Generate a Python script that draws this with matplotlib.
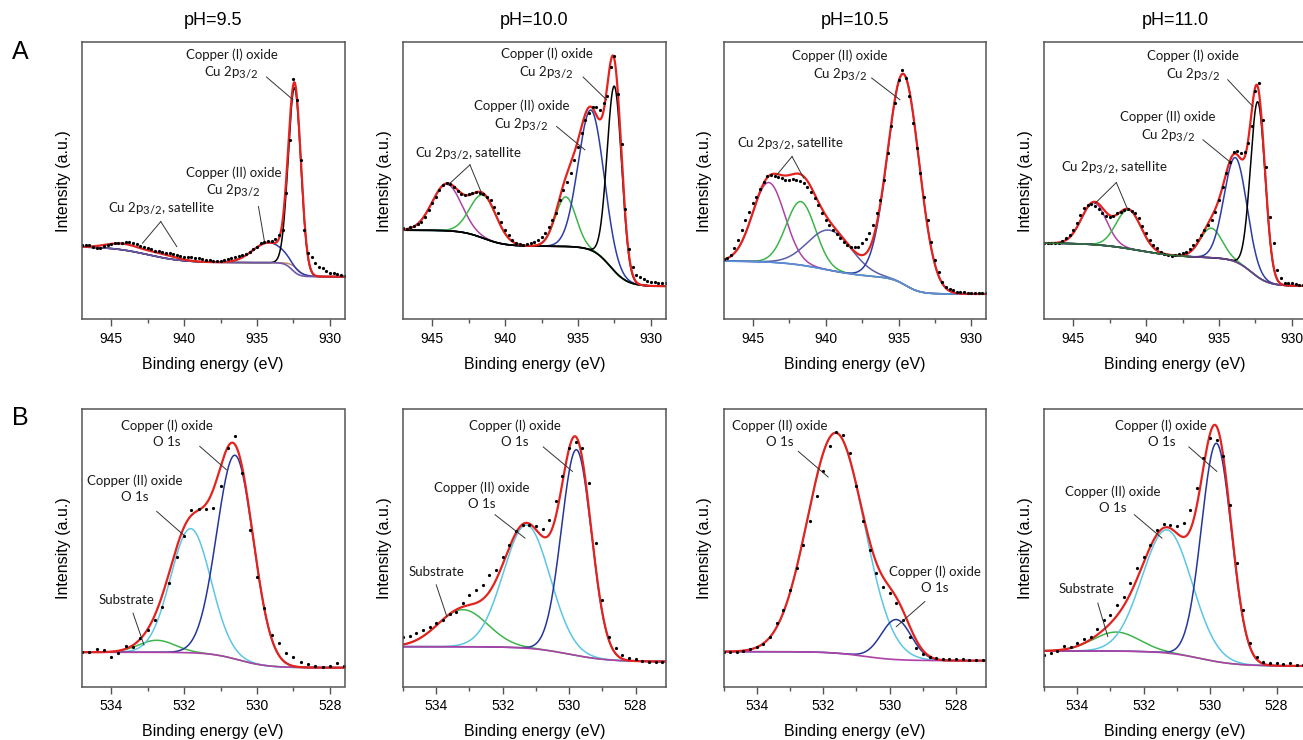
import numpy as np
import matplotlib
matplotlib.use('Agg')
from matplotlib import pyplot as plt
from matplotlib.ticker import MultipleLocator
import matplotlib._mathtext as mtext

plt.rcParams['font.family'] = ['Liberation Sans', 'DejaVu Sans']
plt.rcParams['mathtext.fontset'] = 'custom'
plt.rcParams['mathtext.rm'] = 'Lato'
plt.rcParams['mathtext.it'] = 'Lato:italic'
plt.rcParams['mathtext.bf'] = 'Lato:bold'
#3/2 in the labels is only slightly smaller than the text
mtext.SHRINK_FACTOR = 0.85

RED = '#e3231f'
BLUE = '#2b3da6'
GREEN = '#3db54a'
MAGENTA = '#ad42a6'
SLATE = '#5a5ea8'
CYAN = '#5cc6e4'
DARKBLUE = '#25369a'
FRAME = '#555555'

ph_labels = ['pH=9.5', 'pH=10.0', 'pH=10.5', 'pH=11.0']

#Cu 2p3/2 measured points (row A), 947 -> 929 eV every 0.25 eV
cu_energy = np.linspace(947.0, 929.0, 73)
cu_dots_95 = [74.3, 74.3, 74, 72, 71.5, 71, 73.3, 74, 75, 76,
              76.6, 76.6, 77, 77, 76, 75, 73.6, 72, 71, 70,
              68.6, 68.6, 67.6, 66.6, 66.6, 65.3, 64.3, 63.3, 62.6, 62,
              62, 61.3, 61, 60, 59.3, 59, 58.6, 58.6, 58.6, 59.3,
              60, 61, 62, 63.3, 64.3, 65.3, 67.6, 70, 72.6, 76,
              77, 78.6, 78.6, 80, 84.3, 89.3, 126, 179, 240, 219,
              159, 89.3, 66, 62.6, 56, 52.6, 51, 48.6, 46.6, 46,
              45.3, 44, 43.3]
cu_dots_100 = [91, 90, 92.6, 93.3, 95.3, 97.6, 102.6, 109.3, 116, 122.6,
               129.3, 134.3, 136, 135.3, 132.6, 128.6, 125.3, 124.3, 125.3, 126.6,
               127, 126.6, 125.3, 122.6, 119.3, 112.6, 106, 97.6, 89.3, 84.3,
               79.3, 76.6, 75.3, 74.3, 75.3, 76, 77.6, 79.3, 82, 86,
               92.6, 99.3, 106, 119.3, 129.3, 137.6, 146, 159.3, 172.6, 186,
               199.3, 206, 212, 212, 209.3, 216, 222.6, 252, 262.6, 225,
               175, 110, 70, 52, 44.3, 42, 40, 38.6, 37.6, 37.3,
               36.6, 36, 36]
cu_dots_105 = [60, 61, 64.3, 71, 79.3, 89.3, 99.3, 107.6, 116, 122.6,
               130, 137.6, 143.3, 144.3, 143.6, 142, 141, 139.3, 139.3, 140,
               139.3, 138.6, 136.6, 132.6, 127.6, 121, 114.3, 106, 99.3, 94.3,
               89.3, 85.3, 81, 77.6, 74.3, 72.6, 72, 72.6, 76, 80,
               86, 94.3, 106, 119.3, 139.3, 166, 192.6, 216, 239.3, 249.3,
               241, 222.6, 196, 171, 146, 122.6, 99.3, 77.6, 59.3, 47.6,
               37.6, 32.6, 30, 29.3, 27.6, 27.3, 27, 26.6, 26.6, 26,
               26, 26, 26]
cu_dots_110 = [76.6, 76, 76, 76.6, 76.6, 78.6, 81, 84.3, 89.3, 96.6,
               104.3, 111, 114.3, 115.3, 113.3, 110, 106, 103.3, 102.6, 103.3,
               106, 107.6, 109.3, 110, 108.6, 106, 101, 93.3, 86, 79.3,
               74.3, 71, 67.6, 65.3, 64.3, 63.3, 64.3, 65.3, 66, 67.6,
               70, 74.3, 79.3, 84.3, 89.3, 94.3, 99.3, 107.6, 119.3, 132.6,
               146, 157.6, 167.6, 168.6, 166.6, 167.6, 176, 192.6, 227.6, 236,
               199, 152.6, 102.6, 76, 49.3, 41, 36.6, 36, 36, 35.3,
               34.3, 34.3, 34.3]

#background: base level + (step, centre, width)
cu_base_95, cu_steps_95 = 42.6, [(14, 932.6, 0.5), (16, 942.5, 2.5)]
cu_base_100, cu_steps_100 = 33, [(40, 932.8, 1.2), (16, 941.5, 1.5)]
cu_base_105, cu_steps_105 = 25.3, [(16, 934.5, 1.0), (17, 940.0, 3.0)]
cu_base_110, cu_steps_110 = 33.3, [(28, 932.8, 1.2), (15, 940.5, 3.0)]

#fitted components: centre (eV), height, sigma (eV)
cu_centre_95 = [944.2, 941.6, 934.2, 932.42]
cu_height_95 = [6, 3.5, 20, 184]
cu_sigma_95 = [1.1, 1.1, 1.1, 0.43]

cu_centre_100 = [944.0, 941.5, 935.84, 934.1, 932.5]
cu_height_100 = [46.5, 43, 49.5, 140, 184.7]
cu_sigma_100 = [1.0, 0.9, 0.7, 0.88, 0.5]

cu_centre_105 = [943.9, 941.7, 939.7, 934.65]
cu_height_105 = [79.5, 63.4, 40, 210]
cu_sigma_105 = [1.1, 1.0, 1.5, 1.08]

cu_centre_110 = [943.58, 941.2, 935.54, 933.87, 932.34]
cu_height_110 = [42, 38.8, 29.5, 104, 175]
cu_sigma_110 = [0.85, 0.85, 0.75, 0.78, 0.5]

#O 1s measured points (row B)
o_energy_95 = np.linspace(534.8, 527.6, 37)
o_energy = np.linspace(535.0, 527.2, 40)
o_dots_95 = [35, 35, 37.4, 36.7, 30, 33.4, 40.7, 39.4, 48.4, 56.7, 66.7, 80, 103.4, 130, 150, 176.7, 177.4, 177.4,
             178.4, 200, 238.4, 250, 213.4, 156.7, 110, 78.4, 51.7, 43.4, 33.4, 30, 25, 22.7, 20.7, 20, 20.7, 23.4, 20.7]
o_dots_100 = [49.4, 50.7, 54, 56.7, 59.4, 63.4, 66.7, 72.7, 75, 83.4, 91.7, 96.7, 101.7, 111.7, 116.7, 130, 141.7, 155,
              161.7, 161.7, 160, 157.4, 166.7, 185, 210, 238.4, 244, 238.4, 203.4, 143.4, 86.7, 50, 38.4, 31.7, 28.4,
              27.4, 26, 25, 25, 25]
o_dots_105 = [34.4, 34.4, 34.7, 36, 37.4, 39.4, 42.7, 49.4, 63.4, 76.7, 96.7, 118.4, 141.7, 165, 190, 215, 240, 254.4,
              251.7, 233.4, 200, 165, 136.7, 114, 100, 93.4, 83.4, 66.7, 50, 38.4, 32.7, 30, 28.4, 27.4, 27.4, 27.4,
              27.4, 26.7, 26.7, 26.7]
o_dots_110 = [31.7, 34, 36, 40.7, 39.4, 43.4, 47.4, 50, 57.4, 66.7, 71.7, 81.7, 89.4, 103.4, 118.4, 130, 141.7, 156.7,
              162.7, 161.7, 160, 163.4, 176.7, 198.4, 228.4, 248.4, 246.7, 230, 181.7, 123.4, 76.7, 43.4, 30, 25, 23.4,
              24, 22.7, 23.4, 21.7, 21.7]

o_base_95, o_steps_95 = 19, [(15.4, 530.5, 0.8)]
o_base_100, o_steps_100 = 25, [(15, 530.0, 1.2)]
o_base_105, o_steps_105 = 26, [(9, 530.8, 1.0)]
o_base_110, o_steps_110 = 20.7, [(15, 530.3, 1.1)]

o_centre_95 = [532.75, 531.82, 530.6]
o_height_95 = [12, 124, 203.4]
o_sigma_95 = [0.5, 0.55, 0.5]

o_centre_100 = [533.2, 531.28, 529.78]
o_height_100 = [37, 123, 205.5]
o_sigma_100 = [0.75, 0.7, 0.45]

o_centre_105 = [531.62, 529.8]
o_height_105 = [220, 40]
o_sigma_105 = [0.85, 0.45]

o_centre_110 = [532.83, 531.3, 529.81]
o_height_110 = [19, 123, 218]
o_sigma_110 = [0.7, 0.75, 0.45]

CU1 = 'Copper (I) oxide\nCu 2p$_{3/2}$'
CU2 = 'Copper (II) oxide\nCu 2p$_{3/2}$'
SAT = 'Cu 2p$_{3/2}$, satellite'
O1 = 'Copper (I) oxide\nO 1s'
O2 = 'Copper (II) oxide\nO 1s'
SUB = 'Substrate'

#label positions and leader lines
notes_a = [
    [(CU1, 936.75, 254.7, [(934.35, 242, 932.53, 219.3)]),
     (CU2, 936.6, 137, [(934.9, 112.6, 934.5, 78.6)]),
     (SAT, 941.6, 111, [(941.6, 97.6, 942.85, 76), (941.6, 97.6, 940.5, 72.6)])],
    [(CU1, 937.16, 255, [(934.65, 242, 933.05, 219.3)]),
     (CU2, 938.87, 203.5, [(936.47, 192.6, 934.53, 169.3)]),
     (SAT, 942.53, 166, [(942.41, 154.3, 943.9, 134.3), (942.41, 154.3, 941.61, 126)])],
    [(CU2, 939.0, 253, [(936.84, 241, 934.9, 219.3)]),
     (SAT, 942.43, 176, [(942.3, 162.6, 943.34, 144.3), (942.3, 162.6, 941.5, 141)])],
    [(CU1, 936.8, 253, [(934.4, 239.3, 932.68, 212.6)]),
     (CU2, 938.5, 192.6, [(936.1, 179.3, 934.28, 157.6)]),
     (SAT, 942.16, 152, [(942.04, 136.6, 943.53, 115.3), (942.04, 136.6, 941.25, 109.3)])],
]
notes_b = [
    [(O1, 532.48, 252.5, [(531.57, 240, 530.84, 216.7)]),
     (O2, 533.35, 197.5, [(532.75, 175, 532.02, 151.7)]),
     (SUB, 533.58, 86.7, [(533.4, 73.4, 533.1, 41.7)])],
    [(O1, 531.63, 252.5, [(530.78, 239.4, 529.9, 215)]),
     (O2, 532.63, 190.8, [(532.23, 171.7, 531.33, 148.4)]),
     (SUB, 533.98, 115, [(534.0, 101.7, 533.68, 70)])],
    [(O2, 533.3, 252.8, [(532.75, 235, 531.85, 209.4)]),
     (O1, 528.64, 106.7, [(528.94, 85, 529.8, 60)])],
    [(O1, 531.47, 252.5, [(530.64, 239.4, 529.8, 215)]),
     (O2, 532.93, 186.5, [(532.28, 171.7, 531.45, 148.4)]),
     (SUB, 533.73, 97.4, [(533.38, 83.4, 533.08, 50)])],
]


def gauss(e, c, h, s):
    return h*np.exp(-0.5*((e-c)/s)**2)


def background(e, base, steps):
    b = np.full_like(e, base, dtype=float)
    for h, c, w in steps:
        b = b + h*0.5*(1+np.tanh((e-c)/w))
    return b


def plot_panel(ax, xlim, e_dots, dots, base, steps, centres, heights, sigmas, colours, bg_colour):
    e = np.linspace(xlim[0], xlim[1], 900)
    bg = background(e, base, steps)
    total = bg.copy()
    for c, h, s, col in zip(centres, heights, sigmas, colours):
        g = gauss(e, c, h, s)
        total = total + g
        if col is not None:
            ax.plot(e, bg+g, color=col, lw=1.1)
    if bg_colour is not None:
        ax.plot(e, bg, color=bg_colour, lw=1.2)
    ax.plot(e, total, color=RED, lw=1.6)
    ax.plot(e_dots, dots, 'o', ms=2.3, color='black', mew=0)
    return e


def style_axes(ax, xlim, major, minor):
    ax.set_xlim(xlim)
    ax.set_ylim(0, 277)
    ax.set_yticks([])
    ax.xaxis.set_major_locator(MultipleLocator(major))
    ax.xaxis.set_minor_locator(MultipleLocator(minor))
    ax.tick_params(axis='x', which='major', direction='out', length=5, width=1, color=FRAME,
                   labelsize=10, pad=4)
    ax.tick_params(axis='x', which='minor', direction='out', length=3, width=1, color=FRAME)
    for sp in ax.spines.values():
        sp.set_color(FRAME)
        sp.set_linewidth(1.1)
    ax.set_xlabel('Binding energy (eV)', fontsize=11.5, labelpad=8)
    ax.set_ylabel('Intensity (a.u.)', fontsize=11.5, labelpad=8)


def add_notes(ax, notes):
    for text, tx, ty, segs in notes:
        ax.text(tx, ty, text, ha='center', va='center', fontsize=9.5, family='Lato',
                linespacing=1.4, color='#1a1a1a')
        for x0, y0, x1, y1 in segs:
            ax.plot([x0, x1], [y0, y1], color='#333333', lw=0.7)


if __name__ == '__main__':
    W, H = 1303, 740
    fig = plt.figure(figsize=(W/100, H/100), dpi=100)
    lefts = [82, 403, 723.5, 1044]
    width = 262.5

    cu_panels = [
        (cu_dots_95, cu_base_95, cu_steps_95, cu_centre_95, cu_height_95, cu_sigma_95,
         [None, None, BLUE, 'black'], '#7058a8'),
        (cu_dots_100, cu_base_100, cu_steps_100, cu_centre_100, cu_height_100, cu_sigma_100,
         [MAGENTA, GREEN, GREEN, BLUE, 'black'], 'black'),
        (cu_dots_105, cu_base_105, cu_steps_105, cu_centre_105, cu_height_105, cu_sigma_105,
         [MAGENTA, GREEN, SLATE, BLUE], '#5d8fd6'),
        (cu_dots_110, cu_base_110, cu_steps_110, cu_centre_110, cu_height_110, cu_sigma_110,
         [MAGENTA, GREEN, GREEN, BLUE, 'black'], '#6a3d8f'),
    ]
    o_panels = [
        (o_energy_95, o_dots_95, o_base_95, o_steps_95, o_centre_95, o_height_95, o_sigma_95, (534.8, 527.6)),
        (o_energy, o_dots_100, o_base_100, o_steps_100, o_centre_100, o_height_100, o_sigma_100, (535.0, 527.1)),
        (o_energy, o_dots_105, o_base_105, o_steps_105, o_centre_105, o_height_105, o_sigma_105, (535.0, 527.1)),
        (o_energy, o_dots_110, o_base_110, o_steps_110, o_centre_110, o_height_110, o_sigma_110, (535.0, 527.1)),
    ]

    #row A: Cu 2p
    for i, (dots, base, steps, cen, hei, sig, cols, bgc) in enumerate(cu_panels):
        ax = fig.add_axes([lefts[i]/W, 1-319.3/H, width/W, 277.3/H])
        xlim = (947.0, 929.0)
        if i == 0:
            e = np.linspace(xlim[0], xlim[1], 900)
            ax.plot(e, background(e, base, [(14, 932.2, 0.5), (16, 942.5, 2.5)]), color='#c8875c', lw=1.0)
        e = plot_panel(ax, xlim, cu_energy, dots, base, steps, cen, hei, sig, cols, bgc)
        if i == 3:
            m = e >= 937
            ax.plot(e[m], background(e[m], base, steps), color='#2f6e3a', lw=1.2)
        style_axes(ax, xlim, 5, 2.5)
        ax.set_title(ph_labels[i], fontsize=13, pad=12)
        add_notes(ax, notes_a[i])

    #row B: O 1s
    for i, (ed, dots, base, steps, cen, hei, sig, xlim) in enumerate(o_panels):
        ax = fig.add_axes([lefts[i]/W, 1-686.7/H, width/W, 277.4/H])
        cols = [GREEN, CYAN, DARKBLUE] if len(cen) == 3 else [CYAN, DARKBLUE]
        plot_panel(ax, xlim, ed, dots, base, steps, cen, hei, sig, cols, MAGENTA)
        style_axes(ax, xlim, 2, 1)
        add_notes(ax, notes_b[i])

    fig.text(20/W, 1-52/H, 'A', fontsize=18, ha='center', va='center')
    fig.text(20/W, 1-418/H, 'B', fontsize=18, ha='center', va='center')

    fig.savefig('out.png', dpi=100)
